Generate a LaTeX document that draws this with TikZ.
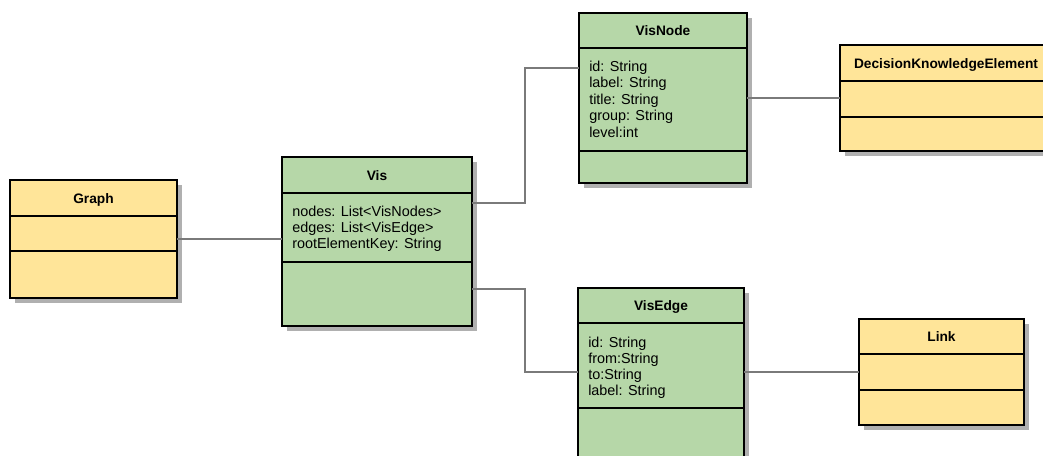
\documentclass[tikz,border=0pt]{standalone}
\usepackage{fontspec}
\setmainfont{Liberation Sans}
\usetikzlibrary{fit}
\definecolor{classyellow}{HTML}{FFE599}
\definecolor{classgreen}{HTML}{B6D7A8}
\definecolor{shadowc}{HTML}{B0B0B0}
\definecolor{connc}{HTML}{7A7A7A}
\tikzset{
  classbox/.style={draw=black, line width=1.5pt, inner sep=0pt, outer sep=0pt, rectangle},
  classline/.style={draw=black, line width=1.5pt},
  classtitle/.style={anchor=base, inner sep=0pt, font=\fontsize{10.3}{12}\selectfont\bfseries},
  attr/.style={anchor=base west, inner sep=0pt, font=\fontsize{10.8}{12}\selectfont},
  conn/.style={draw=connc, line width=1.1pt},
}
\newcommand\umlclass[9]{%
  \fill[shadowc] (#2+5,#3+5) rectangle (#4+5,#5+5);
  \node[classbox, fill=#8, fit={(#2,#3) (#4,#5)}] (#1) {};
  \draw[classline] (#2,#6) -- (#4,#6);
  \draw[classline] (#2,#7) -- (#4,#7);
  \node[classtitle] (#1-title) at ({(#2+#4)/2},{(#3+#6)/2+5}) {#9};
}
\begin{document}
\begin{tikzpicture}[x=0.75pt,y=-0.75pt]
\useasboundingbox (0,0) rectangle (1043,455);
\clip (0,0) rectangle (1043,455);
\fill[white] (0,0) rectangle (1043,455);

\umlclass{graph}{10}{180}{177}{298}{216}{251}{classyellow}{Graph}
\umlclass{vis}{282}{157}{472}{326}{193}{262}{classgreen}{Vis}
\umlclass{visnode}{579}{13}{747}{183}{48}{151}{classgreen}{VisNode}
\umlclass{dke}{840}{45}{1052}{151}{81}{117}{classyellow}{DecisionKnowledgeElement}
\umlclass{visedge}{578}{288}{744}{475}{323}{408}{classgreen}{VisEdge}
\umlclass{link}{859}{319}{1024}{425}{354}{390}{classyellow}{Link}

\node[attr] (vis-a1) at (292,216) {nodes: List<VisNodes>};
\node[attr] (vis-a2) at (292,232) {edges: List<VisEdge>};
\node[attr] (vis-a3) at (292,248) {rootElementKey: String};

\node[attr] (visnode-a1) at (589,71) {id: String};
\node[attr] (visnode-a2) at (589,87.5) {label: String};
\node[attr] (visnode-a3) at (589,104) {title: String};
\node[attr] (visnode-a4) at (589,120.5) {group: String};
\node[attr] (visnode-a5) at (589,137) {level:int};

\node[attr] (visedge-a1) at (588,347) {id: String};
\node[attr] (visedge-a2) at (588,363) {from:String};
\node[attr] (visedge-a3) at (588,379) {to:String};
\node[attr] (visedge-a4) at (588,395) {label: String};

\draw[conn] (graph.east) -- (graph.east -| vis.west);
\draw[conn] (vis.east |- 0,203) -- (525,203) |- (visnode.west |- 0,68);
\draw[conn] (vis.east |- 0,289) -- (525,289) |- (visedge.west |- 0,372);
\draw[conn] (visnode.east |- dke.west) -- (dke.west);
\draw[conn] (visedge.east |- link.west) -- (link.west);
\end{tikzpicture}
\end{document}
